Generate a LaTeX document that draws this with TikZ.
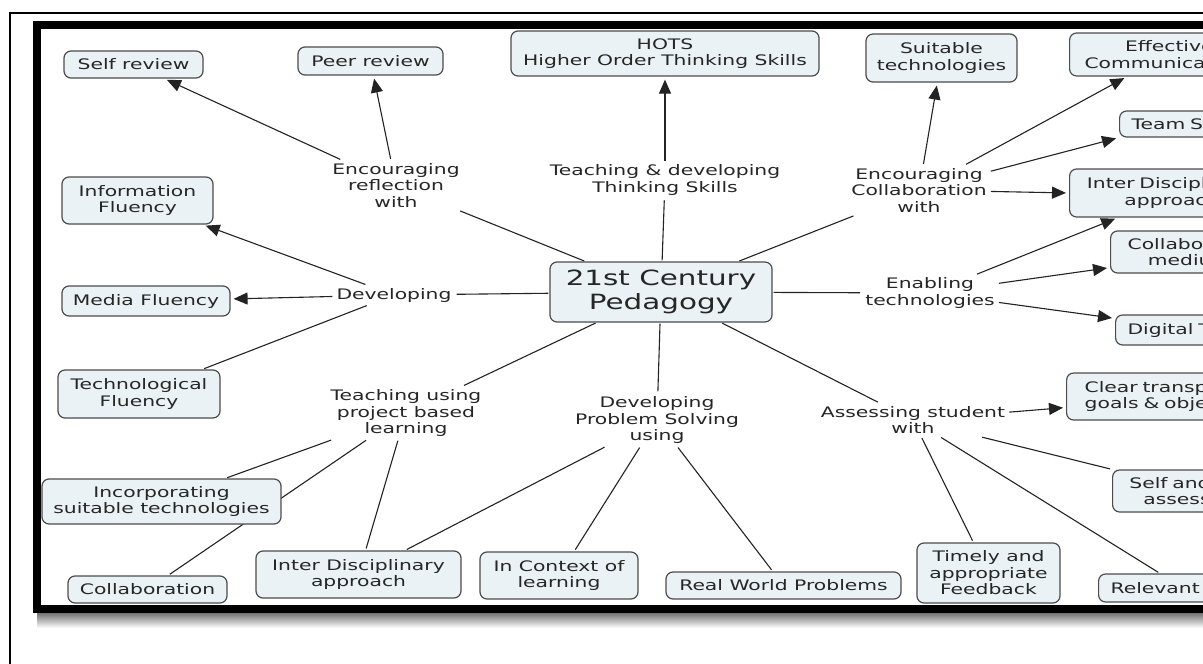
\documentclass[tikz,border=0pt]{standalone}
\usepackage{fontspec}
\newfontfamily\mapfont{DejaVu Sans}[FakeStretch=1.40]
\usetikzlibrary{arrows.meta,backgrounds}
\definecolor{boxfill}{RGB}{235,242,246}
\definecolor{linecol}{RGB}{35,35,35}

\begin{document}
\begin{tikzpicture}[
		x=1pt, y=-1pt
		,every node/.append style={font=\mapfont\fontsize{14.5}{16.5}\selectfont, text=black!85}
		,box/.style 2 args={draw=black!70, fill=boxfill, line width=1.2pt, rounded corners=7pt, align=center, inner sep=2pt, minimum width=#1pt, minimum height=#2pt}
		,cut/.style 2 args={draw=black!70, fill=boxfill, line width=1.2pt, rounded corners=7pt, anchor=west, inner xsep=12pt, inner ysep=2pt, text width=#1pt, minimum height=#2pt}
		,lbl/.style={inner sep=3pt, align=center}
		,link/.style={draw=linecol, line width=1.1pt, shorten <=1pt, shorten >=2pt}
		,arr/.style={link, -{Triangle[length=14pt,width=12pt]}, shorten >=3pt}
	]
	\useasboundingbox (0,0) rectangle (1203,664);

	\begin{scope}
		\clip (41,29) rectangle (1203,605);
		% hub
		\node [box={222}{60}, font=\mapfont\fontsize{21}{24}\selectfont] (hub) at (661,292) {21st Century\\Pedagogy};
		% linking phrases
		\node [lbl] (reflect) at (396,185) {Encouraging\\reflection\\with};
		\node [lbl] (thinking) at (665,180) {Teaching \& developing\\Thinking Skills};
		\node [lbl] (encollab) at (919,190) {Encouraging\\Collaboration\\with};
		\node [lbl] (enabling) at (930,293) {Enabling\\technologies};
		\node [lbl] (assess) at (913,420) {Assessing student\\with};
		\node [lbl] (problem) at (657,420) {Developing\\Problem Solving\\using};
		\node [lbl] (project) at (406,413) {Teaching using\\project based\\learning};
		\node [lbl] (develop) at (394,295) {Developing};
		% concepts
		\node [box={139}{27}] (selfrev) at (133.5,64.5) {Self review};
		\node [box={145}{28}] (peerrev) at (370.5,61) {Peer review};
		\node [box={308}{45}] (hots) at (665,53.5) {HOTS\\Higher Order Thinking Skills};
		\node [box={151}{48}] (suitable) at (941.5,58) {Suitable\\technologies};
		\node [cut={132}{43}, align=right] (effective) at (1069,54.5) {Effective\\Communicat};
		\node [cut={100}{26}, align=left] (team) at (1119,124) {Team S};
		\node [cut={125}{48}, align=right] (interR) at (1069,193) {Inter Discipl\\approac};
		\node [cut={89}{42}, align=right] (collabR) at (1110,252) {Collabor\\mediu};
		\node [cut={100}{30}, align=left] (digital) at (1115,330) {Digital T};
		\node [cut={129}{47}, align=right] (clear) at (1066,396.5) {Clear transp\\goals \& obje};
		\node [cut={86}{42}, align=right] (selfand) at (1112,491) {Self and\\assess};
		\node [cut={100}{28}, align=left] (relevant) at (1098,588) {Relevant};
		\node [box={143}{60}] (timely) at (988.5,573) {Timely and\\appropriate\\Feedback};
		\node [box={235}{27}] (realworld) at (783.5,585.5) {Real World Problems};
		\node [box={158}{47}] (context) at (559,575.5) {In Context of\\learning};
		\node [box={205}{47}] (interB) at (358.5,574.5) {Inter Disciplinary\\approach};
		\node [box={159}{27}] (collabB) at (147.5,589.5) {Collaboration};
		\node [box={239}{45}] (incorp) at (161.5,501.5) {Incorporating\\suitable technologies};
		\node [box={162}{48}] (techflu) at (139,394) {Technological\\Fluency};
		\node [box={168}{30}] (mediaflu) at (146,301) {Media Fluency};
		\node [box={151}{47}] (infoflu) at (137.5,200.5) {Information\\Fluency};
	\end{scope}

	\begin{pgfonlayer}{background}
		\fill [white] (0,0) rectangle (1203,664);
		% from the hub
		\draw [link] (hub) -- (reflect);
		\draw [link] (hub) -- (thinking);
		\draw [link] (hub) -- (encollab);
		\draw [link] (hub) -- (enabling);
		\draw [link] (hub) -- (assess);
		\draw [link] (hub) -- (problem);
		\draw [link] (hub) -- (project);
		\draw [link] (hub) -- (develop);
		% top
		\draw [arr] (reflect) -- (selfrev);
		\draw [arr] (reflect) -- (peerrev);
		\draw [arr] (thinking) -- (hots);
		\draw [arr] (encollab) -- (suitable);
		\draw [arr] (encollab) -- ([xshift=58pt]effective.south west);
		\draw [arr] (encollab) -- (team.south west);
		\draw [arr] (encollab) -- (interR.west);
		% right
		\draw [arr] (enabling) -- ([xshift=49pt]interR.south west);
		\draw [arr] (enabling) -- ([shift={(0,-6)}]collabR.south west);
		\draw [arr] (enabling) -- ([shift={(0,4)}]digital.north west);
		\draw [arr] (assess) -- ([shift={(0,11)}]clear.west);
		\draw [link] (assess) -- (selfand.north west);
		\draw [link] (assess) -- ([xshift=62pt]relevant.north west);
		\draw [link] (assess) -- (timely);
		% bottom
		\draw [link] (problem) -- (realworld);
		\draw [link] (problem) -- (context);
		\draw [link] (problem) -- (interB);
		\draw [link] (project) -- (interB);
		\draw [link] (project) -- (incorp);
		\draw [link] (project) -- (collabB);
		% left
		\draw [link] (develop) -- (techflu);
		\draw [arr] (develop) -- (mediaflu);
		\draw [arr] (develop) -- (infoflu);
	\end{pgfonlayer}

	% frame and its shadow
	\shade [top color=black!55, bottom color=white] (37,613) rectangle (1215,628);
	\draw [line width=8pt, line join=miter] (1215,25) -- (37,25) -- (37,609) -- (1215,609);
	\draw [line width=2pt] (1215,13) -- (10,13) -- (10,670);
\end{tikzpicture}
\end{document}
